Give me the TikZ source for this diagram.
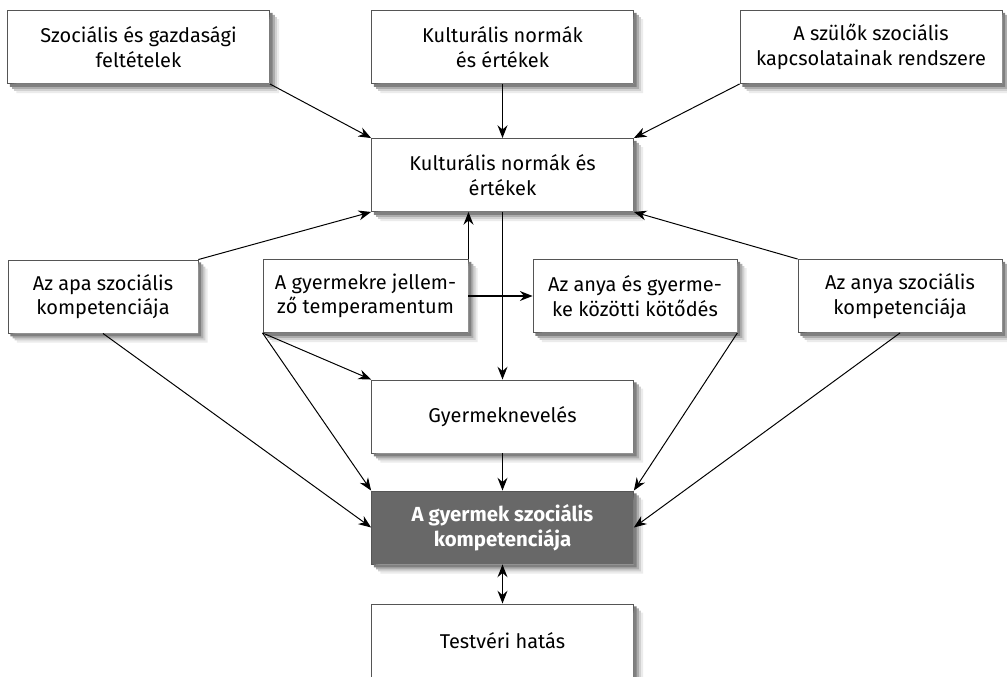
\documentclass[tikz,border=0pt]{standalone}
\usepackage{fontspec}
\setmainfont{Fira Sans}
\usetikzlibrary{arrows.meta}
\definecolor{BoxLine}{RGB}{85,85,85}
\definecolor{DarkBox}{RGB}{104,104,104}
\tikzset{
  box/.style={draw=BoxLine,fill=white,line width=0.5pt,
    minimum width=6.55cm,minimum height=1.83cm,align=center,
    font=\fontsize{14.2}{17.5}\selectfont},
  smallbox/.style={box,minimum width=5.1cm},
  darkbox/.style={box,fill=DarkBox,text=white,
    font=\fontsize{14.5}{17.5}\selectfont\bfseries},
  arrow/.style={-{Stealth[length=9pt,width=7pt]},line width=1.2pt,black},
  thinarrow/.style={-{Stealth[length=9pt,width=7pt]},line width=0.7pt,black}
}
% L-shaped soft shadow along the right and bottom edge of a node
\newcommand{\boxshadow}[1]{%
  \foreach \sof/\stone in {6.5/8,5/18,3.5/32,2/50}{%
    \fill[black!\stone]
      ([yshift=-\sof pt]#1.north east) -- ([shift={(\sof pt,-\sof pt)}]#1.north east)
      -- ([shift={(\sof pt,-\sof pt)}]#1.south east)
      -- ([shift={(\sof pt,-\sof pt)}]#1.south west)
      -- ([xshift=\sof pt]#1.south west) -- (#1.south east) -- cycle;}}

\begin{document}
\begin{tikzpicture}[x=0.025cm,y=-0.025cm]
\useasboundingbox (0,0) rectangle (1007,677);

% Top row
\node[box] (soc) at (138.5,47) {Szociális és gazdasági\\feltételek};
\node[box] (kult1) at (502.5,47) {Kulturális normák\\és értékek};
\node[box] (szulo) at (871,47) {A szülők szociális\\kapcsolatainak rendszere};

% Second row
\node[box] (kult2) at (502.5,175) {Kulturális normák és\\értékek};

% Third row
\node[smallbox,minimum width=4.75cm] (apa) at (103,296.5) {Az apa szociális\\kompetenciája};
\node[smallbox,minimum width=5.13cm] (temp) at (365.5,296) {A gyermekre jellem-\\ző temperamentum};
\node[smallbox] (kot) at (635,296) {Az anya és gyerme-\\ke közötti kötődés};
\node[smallbox] (anya) at (900,296) {Az anya szociális\\kompetenciája};

% Lower column
\node[box] (nev) at (502.5,416.5) {Gyermeknevelés};
\node[darkbox] (gyer) at (502.5,527.5) {A gyermek szociális\\kompetenciája};
\node[box] (test) at (502.5,640.5) {Testvéri hatás};

% Shadows
\foreach \n in {soc,kult1,szulo,kult2,apa,temp,kot,anya,nev,gyer,test}
  \boxshadow{\n};

% Arrows into the upper box
\draw[thinarrow] (soc.south east) -- (kult2.north west);
\draw[arrow] (kult1.south) -- (kult2.north);
\draw[thinarrow] (szulo.south west) -- (kult2.north east);
\draw[thinarrow] (apa.north east) -- (kult2.south west);
\draw[thinarrow] (anya.north west) -- (kult2.south east);
\draw[arrow] (temp.north east) -- (temp.north east |- kult2.south);

% Middle connections
\draw[arrow] (kult2.south) -- (nev.north);
\draw[arrow] (temp.east) -- (kot.west);
\draw[thinarrow] (temp.south west) -- (nev.north west);
\draw[thinarrow] (temp.south west) -- (gyer.north west);

% Arrows into the child's competence
\draw[thinarrow] (apa.south) -- (gyer.west);
\draw[thinarrow] (kot.south east) -- (gyer.north east);
\draw[thinarrow] (anya.south) -- (gyer.east);
\draw[arrow] (nev.south) -- (gyer.north);
\draw[arrow,{Stealth[length=9pt,width=7pt]}-{Stealth[length=9pt,width=7pt]}]
  (gyer.south) -- (test.north);

\end{tikzpicture}
\end{document}
